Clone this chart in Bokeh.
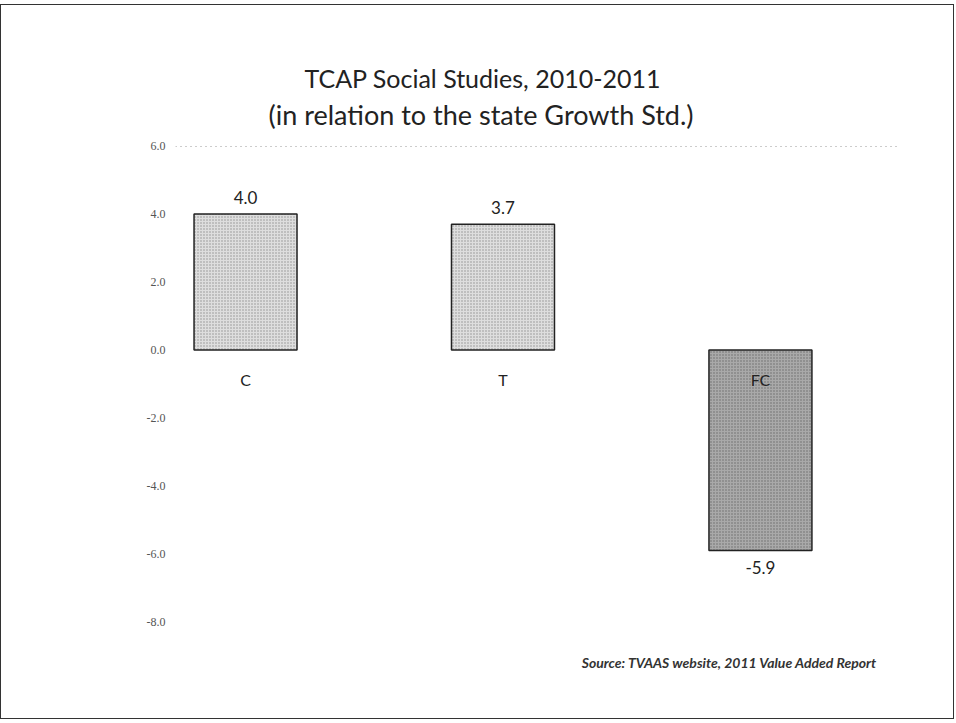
from bokeh.plotting import figure
from bokeh.models import Range1d, FixedTicker, Title, ColumnDataSource, NumeralTickFormatter
from bokeh.core.properties import value
from bokeh.embed import file_html
from bokeh.resources import INLINE

categories = ["C", "T", "FC"]
values = [4.0, 3.7, -5.9]
value_labels = ["4.0", "3.7", "-5.9"]
y_ticks = [-8.0, -6.0, -4.0, -2.0, 0.0, 2.0, 4.0, 6.0]
title_line1 = "TCAP Social Studies, 2010-2011"
title_line2 = "(in relation to the state Growth Std.)"
source_note = "Source: TVAAS website, 2011 Value Added Report"

xs = list(range(len(categories)))
fills = ["#dedede" if v >= 0 else "#a9a9a9" for v in values]
hatch_cols = ["#7a7a7a" if v >= 0 else "#5a5a5a" for v in values]

src = ColumnDataSource(dict(x=xs, top=values, cat=categories, lab=value_labels,
                            fill=fills, hc=hatch_cols))
pos = ColumnDataSource(dict(x=[x for x, v in zip(xs, values) if v >= 0],
                            y=[v for v in values if v >= 0],
                            lab=[l for l, v in zip(value_labels, values) if v >= 0]))
neg = ColumnDataSource(dict(x=[x for x, v in zip(xs, values) if v < 0],
                            y=[v for v in values if v < 0],
                            lab=[l for l, v in zip(value_labels, values) if v < 0]))

p = figure(width=954, height=715, output_backend="svg", toolbar_location=None,
           x_range=Range1d(-0.272, 2.544), y_range=Range1d(-8.4, 6.4),
           min_border_left=174, min_border_right=55, min_border_top=127,
           min_border_bottom=85, background_fill_color="white",
           border_fill_color="white")
p.styles = {"border": "1px solid #333333", "margin-top": "4px"}
p.outline_line_color = None

p.vbar(x="x", top="top", bottom=0, width=0.4, source=src, fill_color="fill",
       line_color="#222222", line_width=1.5, hatch_pattern="dot",
       hatch_color="hc", hatch_scale=3, hatch_alpha=0.8)

p.text(x="x", y="y", text="lab", source=pos, text_align="center",
       text_baseline="bottom", y_offset=-10, text_font=value("Lato"),
       text_font_size="17px", text_color="#222222")
p.text(x="x", y="y", text="lab", source=neg, text_align="center",
       text_baseline="top", y_offset=10, text_font=value("Lato"),
       text_font_size="17px", text_color="#222222")
p.text(x="x", y=0, text="cat", source=src, text_align="center",
       text_baseline="top", y_offset=20, text_font=value("Lato"),
       text_font_size="16px", text_color="#222222")

p.xaxis.visible = False
p.xgrid.visible = False
yax = p.yaxis[0]
yax.ticker = FixedTicker(ticks=y_ticks)
yax.formatter = NumeralTickFormatter(format="0.0")
yax.axis_line_color = None
yax.major_tick_line_color = None
yax.minor_tick_line_color = None
yax.major_label_text_font = "Liberation Serif"
yax.major_label_text_font_size = "12px"
yax.major_label_text_color = "#555555"
yax.major_label_standoff = 4

p.ygrid.ticker = FixedTicker(ticks=[y_ticks[-1]])
p.ygrid.grid_line_color = "#999999"
p.ygrid.grid_line_dash = "1 4"
p.ygrid.grid_line_width = 1

p.add_layout(Title(text=source_note, align="right", text_font="Lato",
                   text_font_style="bold italic", text_font_size="14px",
                   text_color="#333333", offset=23, standoff=33), "below")
p.add_layout(Title(text=title_line2, align="left", text_font="Lato",
                   text_font_style="normal", text_font_size="27px",
                   text_color="#222222", offset=93, standoff=3), "above")
p.add_layout(Title(text=title_line1, align="left", text_font="Lato",
                   text_font_style="normal", text_font_size="25px",
                   text_color="#222222", offset=129, standoff=4), "above")

open("out.html", "w").write(file_html(p, INLINE))
